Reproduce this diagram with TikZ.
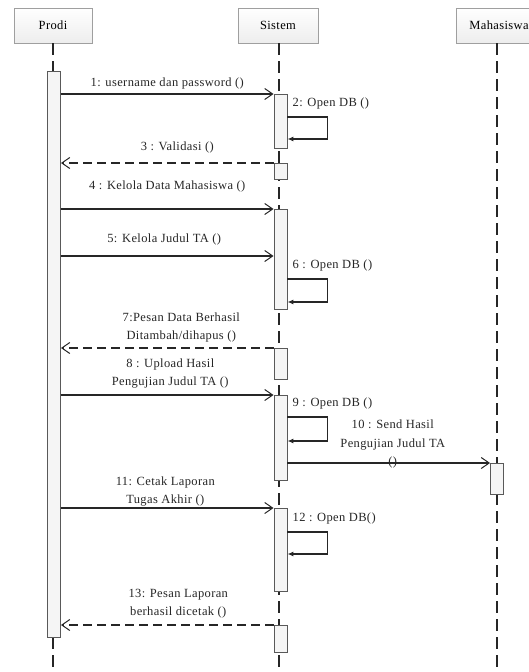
\documentclass[tikz,border=0pt]{standalone}
\usepackage{fontspec}
\setmainfont{Liberation Serif}[LetterSpace=3]
\usetikzlibrary{arrows.meta,positioning}

\tikzset{
	head/.style={draw=gray!75, top color=white, bottom color=gray!14, line width=0.9pt, minimum height=35pt, inner sep=0pt},
	life/.style={line width=1.2pt, draw=black!85, dash pattern=on 12pt off 6pt},
	bar/.style={draw=gray!70!black, fill=gray!8, line width=0.9pt, minimum width=13pt, inner sep=0pt, anchor=north},
	msg/.style={line width=1.1pt, draw=black!85, -{Straight Barb[length=8pt,width=11pt,line width=1pt]}},
	ret/.style={msg, dash pattern=on 9pt off 5pt},
	selfmsg/.style={line width=1.1pt, draw=black!85, -{Latex[length=6pt,width=5pt]}},
	lbl/.style={inner sep=1pt, align=center, text=black!85},
	selflbl/.style={lbl, anchor=south west, xshift=4pt, yshift=7pt}
}

\begin{document}
\begin{tikzpicture}[x=1pt, y=-1pt, every node/.style={font=\fontsize{12.5}{18.5}\selectfont}]
	\useasboundingbox (0,0) rectangle (529,672);
	\node[head, minimum width=78pt] (prodi) at (53,25.5)  {Prodi};
	\node[head, minimum width=80pt] (sistem) at (278,25.5) {Sistem};
	\node[head, minimum width=86pt] (mhs) at (499,25.5)    {Mahasiswa};
	\coordinate (prodiend)  at (53,672);
	\coordinate (sistemend) at (279,672);
	\coordinate (mhsend)    at (497,672);
	\draw[life] (prodi.south) -- (prodiend);
	\draw[life] (sistem.south -| sistemend) -- (sistemend);
	\draw[life] (mhs.south -| mhsend) -- (mhsend);
	\node[bar, minimum height=566pt] (pb) at (54,71)   {};
	\node[bar, minimum height=54pt]  (s1) at (280.5,94)  {};
	\node[bar, minimum height=16pt]  (s2) at (280.5,163) {};
	\node[bar, minimum height=100pt] (s3) at (280.5,209) {};
	\node[bar, minimum height=31pt]  (s4) at (280.5,348) {};
	\node[bar, minimum height=85pt]  (s5) at (280.5,395) {};
	\node[bar, minimum height=83pt]  (s6) at (280.5,508) {};
	\node[bar, minimum height=27pt]  (s7) at (280.5,625) {};
	\node[bar, minimum height=31pt]  (mb) at (497,463)   {};
	\coordinate (m5)  at ([yshift=-47pt]s3.north west);
	\coordinate (l2)  at ([yshift=-23pt]s1.north east);
	\coordinate (l6)  at ([yshift=-70pt]s3.north east);
	\coordinate (l9)  at ([yshift=-22pt]s5.north east);
	\coordinate (l12) at ([yshift=-24pt]s6.north east);
	\draw[msg] (pb.east |- s1.north) -- (s1.north west) node[midway, lbl, above=3pt] {1: username dan password ()};
	\draw[selfmsg] (l2) -- ++(40,0) -- ++(0,22) -- ++(-40,0);
	\node[selflbl] (t2) at (l2) {2: Open DB ()};
	\draw[ret] (s2.north west) -- (pb.east |- s2.north) node[midway, lbl, above=8pt, xshift=10pt] {3 : Validasi ()};
	\draw[msg] (pb.east |- s3.north) -- (s3.north west) node[midway, lbl, above=15pt] {4 : Kelola Data Mahasiswa ()};
	\draw[msg] (pb.east |- m5) -- (m5) node[midway, lbl, above=9pt, xshift=-3pt] {5: Kelola Judul TA ()};
	\draw[selfmsg] (l6) -- ++(40,0) -- ++(0,23) -- ++(-40,0);
	\node[selflbl] (t6) at (l6) {6 : Open DB ()};
	\draw[ret] (s4.north west) -- (pb.east |- s4.north) node[midway, lbl, above=4pt, xshift=14pt] {7:Pesan Data Berhasil\\Ditambah/dihapus ()};
	\draw[msg] (pb.east |- s5.north) -- (s5.north west) node[midway, lbl, above=5pt, xshift=3pt] {8 : Upload Hasil\\Pengujian Judul TA ()};
	\draw[selfmsg] (l9) -- ++(40,0) -- ++(0,24) -- ++(-40,0);
	\node[selflbl] (t9) at (l9) {9 : Open DB ()};
	\draw[msg] (s5.east |- mb.north) -- (mb.north west) node[midway, lbl, above=-7pt, xshift=4pt] {10 : Send Hasil\\Pengujian Judul TA\\()};
	\draw[msg] (pb.east |- s6.north) -- (s6.north west) node[midway, lbl, above=0pt, xshift=-2pt] {11: Cetak Laporan\\Tugas Akhir ()};
	\draw[selfmsg] (l12) -- ++(40,0) -- ++(0,22) -- ++(-40,0);
	\node[selflbl] (t12) at (l12) {12 : Open DB()};
	\draw[ret] (s7.north west) -- (pb.east |- s7.north) node[midway, lbl, above=5pt, xshift=11pt] {13: Pesan Laporan\\berhasil dicetak ()};
\end{tikzpicture}
\end{document}
